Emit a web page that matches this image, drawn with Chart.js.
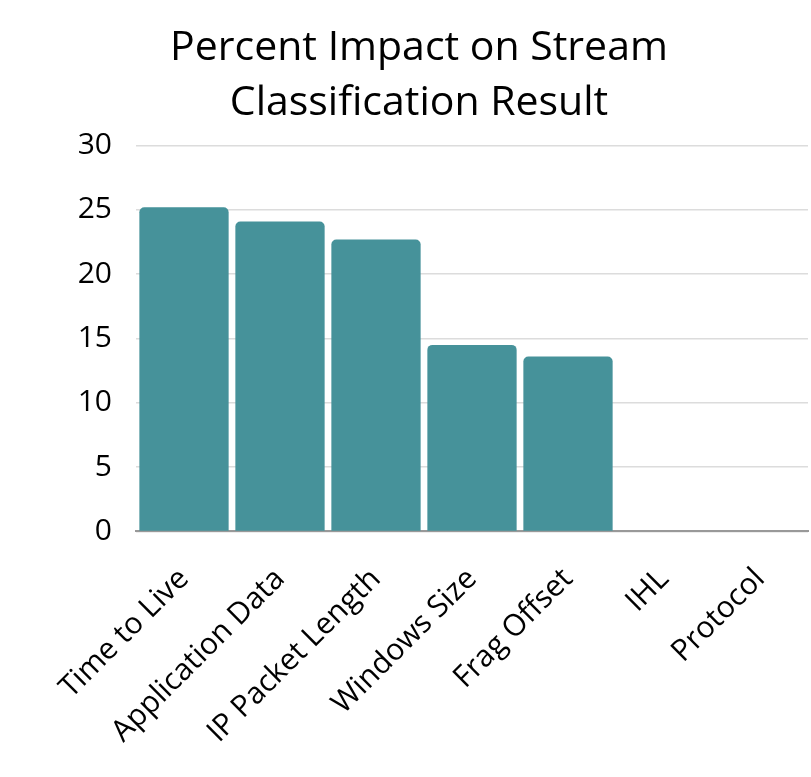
<!DOCTYPE html>
<html>
<head>
<meta charset="utf-8">
<script src="https://cdn.jsdelivr.net/npm/chart.js@4"></script>
<style>
  html, body { margin: 0; padding: 0; background: #fff; }
  #wrap { width: 811px; height: 777px; }
</style>
</head>
<body>
<div id="wrap"><canvas id="impactChart" width="811" height="777"></canvas></div>
<script>
  // chart data
  const categories = ["Time to Live", "Application Data", "IP Packet Length", "Windows Size", "Frag Offset", "IHL", "Protocol"];
  const impactValues = [25.2, 24.1, 22.7, 14.5, 13.6, 0, 0];
  const yTicks = [0, 5, 10, 15, 20, 25, 30];

  const fontFamily = "'Open Sans', 'Noto Sans', sans-serif";

  const ctx = document.getElementById('impactChart').getContext('2d');
  new Chart(ctx, {
    type: 'bar',
    data: {
      labels: categories,
      datasets: [{
        data: impactValues,
        backgroundColor: '#46929a',
        borderRadius: 5,
        borderSkipped: 'start',
        barPercentage: 0.93,
        categoryPercentage: 1
      }]
    },
    options: {
      responsive: false,
      animation: false,
      layout: { padding: { left: 30, right: 3, top: 20, bottom: 5 } },
      plugins: {
        legend: { display: false },
        tooltip: { enabled: false },
        title: {
          display: true,
          text: ["Percent Impact on Stream", "Classification Result"],
          color: '#000',
          font: { family: fontFamily, size: 41, weight: 'normal', lineHeight: 1.36 },
          padding: { top: 0, bottom: 14 }
        }
      },
      scales: {
        y: {
          min: 0,
          max: 30,
          afterFit: function (scale) { scale.width = 106; },
          afterBuildTicks: function (scale) {
            scale.ticks = yTicks.map(v => ({ value: v }));
          },
          ticks: {
            color: '#000',
            padding: 24,
            font: { family: fontFamily, size: 30 }
          },
          grid: { color: '#dcdcdc', lineWidth: 1.5, drawTicks: false },
          border: { display: false }
        },
        x: {
          grid: { display: false },
          border: { color: '#999', width: 2 },
          ticks: {
            color: '#000',
            maxRotation: 45,
            minRotation: 45,
            padding: 22,
            font: { family: fontFamily, size: 30 }
          }
        }
      }
    }
  });
</script>
</body>
</html>
